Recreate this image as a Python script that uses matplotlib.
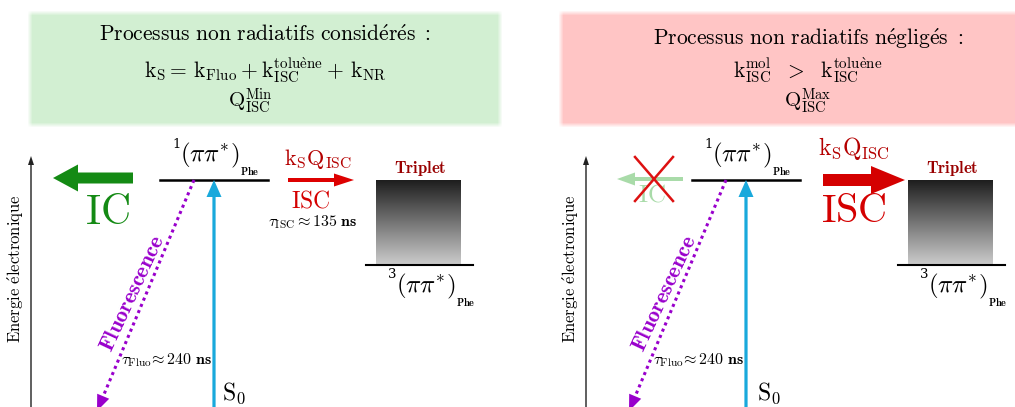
import numpy as np
import matplotlib
matplotlib.use('Agg')
import matplotlib.pyplot as plt
from matplotlib.patches import FancyArrow, Polygon

plt.rcParams['mathtext.fontset'] = 'cm'
plt.rcParams['font.family'] = 'serif'
plt.rcParams['font.serif'] = ['DejaVu Serif']

W, H = 1015, 407

# ---- content -------------------------------------------------------------
box_titles = [r'$\mathrm{Processus\ non\ radiatifs\ consid\acute{e}r\acute{e}s\ :}$',
              r'$\mathrm{Processus\ non\ radiatifs\ n\acute{e}glig\acute{e}s\ :}$']
box_formulas = [r'$\mathrm{k}_{\mathrm{S}}=\,\mathrm{k}_{\mathrm{Fluo}}+\mathrm{k}^{\mathrm{tolu\grave{e}ne}}_{\mathrm{ISC}}+\,\mathrm{k}_{\mathrm{NR}}$',
                r'$\mathrm{k}^{\mathrm{mol}}_{\mathrm{ISC}}\ \ >\ \ \mathrm{k}^{\mathrm{tolu\grave{e}ne}}_{\mathrm{ISC}}$']
box_q = [r'$\mathrm{Q}^{\mathrm{Min}}_{\mathrm{ISC}}$', r'$\mathrm{Q}^{\mathrm{Max}}_{\mathrm{ISC}}$']
box_colors = [(0.824, 0.941, 0.824), (1.0, 0.776, 0.776)]
box_rects = [(30, 500, 13, 125), (561, 1025, 13, 125)]
box_cx = [265, 808]

panel_dx = [0, 532]
axis_x = [31, 586]
energy_label = r'$\mathrm{Energie\ \acute{e}lectronique}$'
state_core = r'$(\pi\pi^{*})$'
singlet_mult = '1'
triplet_mult = '3'
state_sub = r'$\mathbf{Phe}$'
s0_label = r'$\mathrm{S}_{0}$'
rate_label = r'$\mathrm{k}_{\mathrm{S}}\mathrm{Q}_{\mathrm{ISC}}$'
tau_fluo_ns = 240
tau_isc_ns = 135
ic_considered = [True, False]
isc_large = [False, True]

# geometry (pixels)
S1_Y = 180
T_TOP, T_BOT = 180, 265

fig = plt.figure(figsize=(W / 100, H / 100), dpi=100)
ax = fig.add_axes([0, 0, 1, 1])
ax.set_xlim(0, W)
ax.set_ylim(H, 0)
ax.axis('off')


def soft_box(x0, x1, y0, y1, color, blur=5):
    pad = 3 * blur
    w = int(x1 - x0 + 2 * pad)
    h = int(y1 - y0 + 2 * pad)
    xs = np.arange(w) + x0 - pad + 0.5
    ys = np.arange(h) + y0 - pad + 0.5
    ax_ = np.clip(np.minimum(xs - x0, x1 - xs) / blur + 0.5, 0, 1)
    ay_ = np.clip(np.minimum(ys - y0, y1 - ys) / blur + 0.5, 0, 1)
    a = np.outer(ay_, ax_)
    img = np.zeros((h, w, 4))
    img[..., 0], img[..., 1], img[..., 2] = color
    img[..., 3] = a
    ax.imshow(img, extent=(x0 - pad, x0 - pad + w, y0 - pad + h, y0 - pad),
              origin='upper', interpolation='bilinear', zorder=0)


def state_label(xc, yc, mult):
    ax.text(xc, yc, state_core, fontsize=18, ha='center', va='center')
    ax.text(xc - 29, yc - 11, mult, fontsize=9.5, family='DejaVu Serif',
            ha='right', va='center')
    ax.text(xc + 30, yc + 16, state_sub, fontsize=7.5, ha='left', va='center')


for i in range(2):
    x0, x1, y0, y1 = box_rects[i]
    soft_box(x0, x1, y0, y1, box_colors[i])
    cx = box_cx[i]
    ax.text(cx, 35 + 4 * i, box_titles[i], fontsize=15.5, ha='center', va='center', zorder=3)
    ax.text(cx, 70, box_formulas[i], fontsize=15.5, ha='center', va='center', zorder=3)
    ax.text(cx - 15 * (1 - i), 101, box_q[i], fontsize=15, ha='center', va='center', zorder=3)

for i in range(2):
    d = panel_dx[i]
    # energy axis
    xa = axis_x[i]
    ax.plot([xa, xa], [H, 163], color='#444444', lw=1.2, zorder=2)
    ax.add_patch(Polygon([[xa - 3, 165], [xa + 3, 165], [xa, 156]], closed=True,
                         color='#222222', lw=0, zorder=2))
    ax.text(xa - 15, 269, energy_label, rotation=90, fontsize=12,
            ha='center', va='center')

    # singlet level
    ax.plot([160 + d, 268 + d], [S1_Y, S1_Y], color='black', lw=1.8, zorder=3)
    state_label(210 + d, 155, singlet_mult)

    # absorption (cyan)
    ax.add_patch(FancyArrow(214 + d, H + 5, 0, S1_Y - H - 5, width=3.2, head_width=15,
                            head_length=17, length_includes_head=True,
                            color='#19a9dc', lw=0, zorder=3))
    ax.text(234 + d + 3 * i, 393, s0_label, fontsize=17, ha='center', va='center')

    # fluorescence (purple dotted)
    x_s, y_s = 194 + d, S1_Y
    x_t, y_t = 97 + d, 411
    vx, vy = x_t - x_s, y_t - y_s
    L = np.hypot(vx, vy)
    ux, uy = vx / L, vy / L
    hl, hw = 16, 13
    bx, by = x_t - ux * hl, y_t - uy * hl
    ax.plot([x_s, bx], [y_s, by], color='#9900cc', lw=2.2, ls=(0, (1, 1.2)), zorder=3)
    ax.add_patch(Polygon([[x_t, y_t], [bx - uy * hw / 2, by + ux * hw / 2],
                          [bx + uy * hw / 2, by - ux * hw / 2]], closed=True,
                         color='#9900cc', lw=0, zorder=3))
    ax.text(132 + d, 293, r'$\mathbf{Fluorescence}$', rotation=65, fontsize=16,
            color='#9900cc', ha='center', va='center', rotation_mode='anchor')
    ax.text(167 + d, 360, r'$\mathbf{\tau}_{\mathrm{Fluo}}\!\approx\mathbf{%d\ ns}$' % tau_fluo_ns,
            fontsize=11.5, ha='center', va='center')

    # internal conversion
    if ic_considered[i]:
        ax.add_patch(FancyArrow(133 + d, 178, -80, 0, width=11, head_width=27,
                                head_length=25, length_includes_head=True,
                                color='#148a14', lw=0, zorder=3))
        ax.text(107 + d, 212, r'$\mathrm{IC}$', fontsize=30, color='#148a14',
                ha='center', va='center')
    else:
        ax.add_patch(FancyArrow(683, 179, -66, 0, width=4, head_width=13,
                                head_length=18, length_includes_head=True,
                                color='#a9dba9', lw=0, zorder=3))
        ax.text(652, 195, r'$\mathrm{IC}$', fontsize=18, color='#a9dba9',
                ha='center', va='center', zorder=3)
        ax.plot([635, 673], [157, 201], color='#dd1111', lw=1.8, zorder=4)
        ax.plot([673, 635], [157, 201], color='#dd1111', lw=1.8, zorder=4)

    # ISC
    if isc_large[i]:
        ax.add_patch(FancyArrow(823, 180, 82, 0, width=12, head_width=28,
                                head_length=34, length_includes_head=True,
                                color='#d40000', lw=0, zorder=3))
        ax.text(854, 148, rate_label, fontsize=17, color='#b40000', ha='center', va='center')
        ax.text(854, 211, r'$\mathrm{ISC}$', fontsize=29, color='#d40000',
                ha='center', va='center')
    else:
        ax.add_patch(FancyArrow(288, 180, 66, 0, width=4, head_width=13,
                                head_length=20, length_includes_head=True,
                                color='#dd0000', lw=0, zorder=3))
        ax.text(318, 159, rate_label, fontsize=16, color='#b40000', ha='center', va='center')
        ax.text(311, 201, r'$\mathrm{ISC}$', fontsize=17, color='#d40000',
                ha='center', va='center')
        ax.text(313, 222, r'$\mathbf{\tau}_{\mathrm{ISC}}\approx\mathbf{%d\ ns}$' % tau_isc_ns,
                fontsize=11.5, ha='center', va='center')

    # triplet
    grad = np.linspace(0.12, 0.80, 128)
    img = np.repeat(grad[:, None], 4, axis=1)
    ax.imshow(img, cmap='gray', vmin=0, vmax=1, extent=(376 + d, 461 + d, T_BOT, T_TOP),
              origin='upper', aspect='auto', interpolation='bilinear', zorder=2)
    ax.plot([366 + d, 473 + d], [T_BOT, T_BOT], color='black', lw=1.5, zorder=3)
    ax.text(420 + d, 168, r'$\mathbf{Triplet}$', fontsize=12, color='#990000',
            ha='center', va='center')
    state_label(426 + d, 286, triplet_mult)

ax.set_xlim(0, W)
ax.set_ylim(H, 0)
fig.savefig('out.png', dpi=100)
